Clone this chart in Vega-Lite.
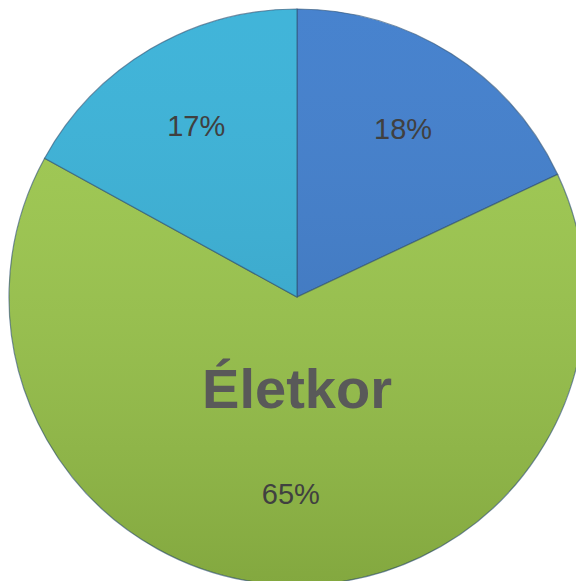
{
  "$schema": "https://vega.github.io/schema/vega-lite/v6.json",
  "width": 576,
  "height": 581,
  "autosize": {"type": "fit", "contains": "padding"},
  "padding": {"left": 18, "top": 13, "right": 0, "bottom": 0},
  "background": "white",
  "view": {"stroke": null},
  "data": {
    "values": [
      {"slice": "a", "order": 1, "value": 18, "label": "18%"},
      {"slice": "b", "order": 2, "value": 65, "label": "65%"},
      {"slice": "c", "order": 3, "value": 17, "label": "17%"}
    ]
  },
  "layer": [
    {
      "mark": {"type": "arc", "outerRadius": 288, "stroke": "#23486a", "strokeWidth": 1.2, "strokeOpacity": 0.6},
      "encoding": {
        "theta": {"field": "value", "type": "quantitative", "stack": true},
        "order": {"field": "order", "type": "quantitative"},
        "color": {
          "field": "slice",
          "type": "nominal",
          "scale": {"domain": ["a", "b", "c"], "range": ["#3c7bcb", "#9cc84b", "#35b0d7"]},
          "legend": null
        }
      }
    },
    {
      "data": {"values": [{"value": 100}]},
      "mark": {
        "type": "arc",
        "outerRadius": 288,
        "fill": {
          "gradient": "linear",
          "x1": 0, "y1": 0, "x2": 0, "y2": 1,
          "stops": [
            {"offset": 0, "color": "rgba(255,255,255,0.06)"},
            {"offset": 1, "color": "rgba(0,0,0,0.16)"}
          ]
        }
      },
      "encoding": {
        "theta": {"field": "value", "type": "quantitative", "stack": true}
      }
    },
    {
      "mark": {"type": "text", "radius": 198, "fontSize": 29, "font": "Liberation Sans", "fill": "#404040"},
      "encoding": {
        "theta": {"field": "value", "type": "quantitative", "stack": true},
        "order": {"field": "order", "type": "quantitative"},
        "text": {"field": "label", "type": "nominal"}
      }
    },
    {
      "data": {"values": [{"t": "Életkor"}]},
      "mark": {"type": "text", "fontSize": 56, "fontWeight": "bold", "font": "Liberation Sans", "fill": "#595959", "dy": 111, "baseline": "alphabetic"},
      "encoding": {"text": {"field": "t", "type": "nominal"}}
    }
  ]
}
